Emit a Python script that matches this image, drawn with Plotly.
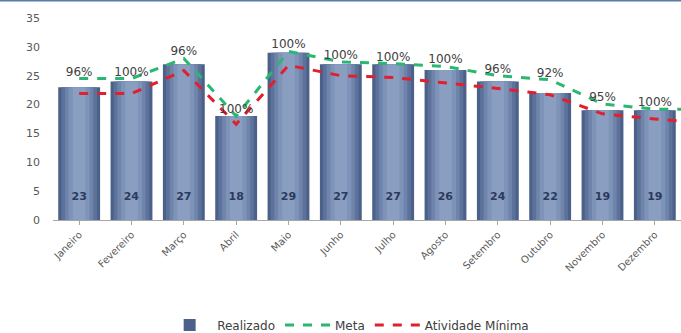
import plotly.graph_objects as go

# data
meses = ['Janeiro', 'Fevereiro', 'Março', 'Abril', 'Maio', 'Junho', 'Julho',
         'Agosto', 'Setembro', 'Outubro', 'Novembro', 'Dezembro']
realizado = [23, 24, 27, 18, 29, 27, 27, 26, 24, 22, 19, 19]
meta = [24.5, 24.5, 28, 18, 29.2, 27.4, 27.1, 26.6, 25, 24.3, 20.1, 19.2, 19.2]
atividade_minima = [21.9, 21.9, 25.9, 16.6, 26.8, 25, 24.7, 23.8, 22.8, 21.7, 18.4, 17.5, 16.8]
percentuais = ['96%', '100%', '96%', '100%', '100%', '100%', '100%', '100%',
               '96%', '92%', '95%', '100%']

x_bar = list(range(len(meses)))
x_line = list(range(len(meta)))

fig = go.Figure()

# fake horizontal gradient on the bars with stacked-width overlays
layers = [(0.80, '#4C6189'), (0.68, '#5D729A'), (0.54, '#6F84AB'),
          (0.40, '#7E93B8'), (0.24, '#8A9EC2')]
for i, (w, c) in enumerate(layers):
    last = i == len(layers) - 1
    fig.add_trace(go.Bar(
        x=x_bar, y=realizado, width=w, name='Realizado',
        marker=dict(color=c, line=dict(width=0)),
        showlegend=(i == 0), legendgroup='r',
        text=realizado if last else None,
        texttemplate='<b>%{y}</b><br> ' if last else None,
        textposition='inside' if last else None,
        insidetextanchor='start', textangle=0,
        textfont=dict(color='#2A3A5E', size=11, family='DejaVu Sans'),
    ))

fig.add_trace(go.Scatter(
    x=x_line, y=meta, name='Meta', mode='lines',
    line=dict(color='#2BB673', width=3, dash='dash'),
))
fig.add_trace(go.Scatter(
    x=x_line, y=atividade_minima, name='Atividade Mínima', mode='lines',
    line=dict(color='#E0202E', width=3, dash='dash'),
))
# percentage labels above the target line
fig.add_trace(go.Scatter(
    x=x_bar, y=meta[:len(meses)], mode='text', text=percentuais,
    textposition='top center', showlegend=False,
    textfont=dict(color='#404040', size=12, family='DejaVu Sans'),
))

fig.update_layout(
    barmode='overlay',
    width=681, height=333,
    margin=dict(l=53, r=0, t=18, b=113, autoexpand=False),
    plot_bgcolor='white', paper_bgcolor='white',
    font=dict(family='DejaVu Sans', color='#595959', size=10),
    uniformtext=dict(minsize=11, mode='show'),
    legend=dict(orientation='h', x=0.47, xanchor='center', y=-0.52, yanchor='middle',
                itemwidth=45, font=dict(size=12, color='#404040')),
    shapes=[dict(type='line', xref='paper', yref='paper', x0=-0.1, x1=1.1,
                 y0=1.087, y1=1.087, line=dict(color='#5A7AA8', width=2))],
)
fig.update_xaxes(
    range=[-0.5, 11.5], tickvals=x_bar, ticktext=meses, tickangle=-45,
    showline=True, linecolor='#A6A6A6', linewidth=1, showgrid=False,
    ticks='outside', tickcolor='#A6A6A6', ticklen=4, automargin=False,
)
fig.update_yaxes(
    range=[0, 35], dtick=5, showgrid=False, showline=False, zeroline=False,
    tickfont=dict(size=11), ticklabelstandoff=12, automargin=False,
)

# drop the default body margin so the figure sits at the window's corner
fig.write_html("out.html", config={'displayModeBar': False},
               post_script="document.body.style.margin='0';")
